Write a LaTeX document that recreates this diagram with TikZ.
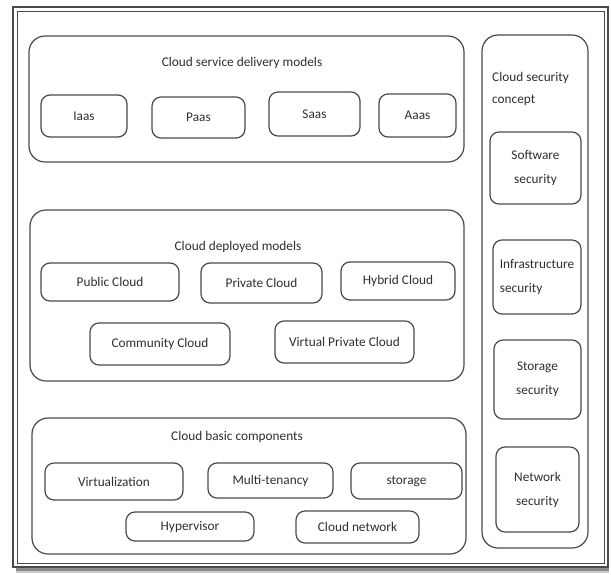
\documentclass[tikz,border=0pt]{standalone}
\usepackage{fontspec}
\setmainfont{Carlito}
\definecolor{edge}{HTML}{4A4A4A}
\definecolor{ink}{HTML}{2E2E2E}
\begin{document}
\begin{tikzpicture}[x=1pt,y=-1pt,
  every node/.style={font=\fontsize{13.3}{24}\selectfont, text=ink},
  group/.style={draw=edge, line width=1.2pt, rounded corners=16pt, inner sep=0pt},
  item/.style={draw=edge, line width=1.2pt, rounded corners=9pt, inner sep=0pt, align=center},
  title/.style={inner sep=0pt}]
\useasboundingbox (0,0) rectangle (611,574);
% shadow of frame
\fill[black!45] (16,567) rectangle (609,571);
\fill[black!20] (16,571) rectangle (609,573);
% outer double frame
\draw[edge, line width=1.1pt] (13,7) rectangle (608,567);
\draw[edge, line width=0.9pt] (17,11) rectangle (604,563);

% top group
\node[group, minimum width=435pt, minimum height=126pt] (top) at (246.5,99) {};
\node[title] (toptitle) at (242,63) {Cloud service delivery models};
\node[item, minimum width=86pt, minimum height=42pt] (iaas) at (84,116) {Iaas};
\node[item, minimum width=93pt, minimum height=41pt] (paas) at (198.5,117.5) {Paas};
\node[item, minimum width=91pt, minimum height=44pt] (saas) at (314.5,114) {Saas};
\node[item, minimum width=77pt, minimum height=43pt] (aaas) at (417.5,115.5) {Aaas};

% middle group
\node[group, minimum width=434pt, minimum height=171pt] (mid) at (247,295.5) {};
\node[title] (midtitle) at (238,247) {Cloud deployed models};
\node[item, minimum width=138pt, minimum height=38pt] (public) at (110,282) {Public Cloud};
\node[item, minimum width=121pt, minimum height=40pt] (private) at (261.5,283) {Private Cloud};
\node[item, minimum width=114pt, minimum height=38pt] (hybrid) at (398,281) {Hybrid Cloud};
\node[item, minimum width=140pt, minimum height=42pt] (community) at (160,344) {Community Cloud};
\node[item, minimum width=139pt, minimum height=42pt] (vpc) at (344.5,342) {Virtual Private Cloud};

% bottom group
\node[group, minimum width=434pt, minimum height=136pt] (bot) at (249,486) {};
\node[title] (bottitle) at (237,437) {Cloud basic components};
\node[item, minimum width=138pt, minimum height=37pt] (virt) at (114,481.5) {Virtualization};
\node[item, minimum width=125pt, minimum height=35pt] (multi) at (270.5,480.5) {Multi-tenancy};
\node[item, minimum width=111pt, minimum height=36pt] (storage) at (406.5,481) {storage};
\node[item, minimum width=128pt, minimum height=29pt] (hyper) at (190,526.5) {Hypervisor};
\node[item, minimum width=123pt, minimum height=32pt] (cnet) at (357.5,527) {Cloud network};

% right column
\node[group, minimum width=106pt, minimum height=513pt] (sec) at (535,291.5) {};
\node[title, anchor=west, align=left, font=\fontsize{13.3}{22}\selectfont] (sectitle) at (492,89) {Cloud security\\concept};
\node[item, minimum width=91pt, minimum height=72pt] (soft) at (535.5,168) {Software\\security};
\node[item, minimum width=88pt, minimum height=74pt, align=left] (infra) at (537,277) {Infrastructure\\security};
\node[item, minimum width=87pt, minimum height=79pt] (stor) at (537.5,379.5) {Storage\\security};
\node[item, minimum width=83pt, minimum height=85pt] (net) at (537.5,489.5) {Network\\security};
\end{tikzpicture}
\end{document}
